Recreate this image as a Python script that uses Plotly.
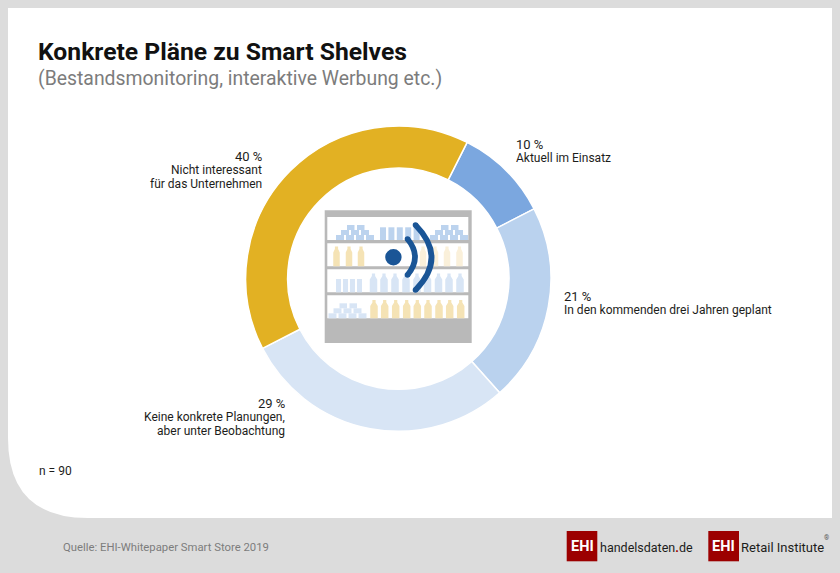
import plotly.graph_objects as go

# ---- data ----
categories = ["Aktuell im Einsatz", "In den kommenden drei Jahren geplant",
              "Keine konkrete Planungen, aber unter Beobachtung",
              "Nicht interessant für das Unternehmen"]
values = [10, 21, 29, 40]
colors = ["#7BA7DF", "#BAD2EE", "#D8E5F5", "#E2B123"]
value_labels = ["10 %", "21 %", "29 %", "40 %"]
title = "Konkrete Pläne zu Smart Shelves"
subtitle = "(Bestandsmonitoring, interaktive Werbung etc.)"

W, H = 840, 573
FONT = "Roboto"
DARK = "#1d1d1b"
GREY = "#7c7c7c"
BLUE_D = "#BCD3EE"
BLUE_L = "#D8E5F5"
YEL = "#F5E3B5"
YEL_L = "#FAF0DA"
SHELF = "#B9B9B9"
NAVY = "#1A5596"
RED = "#9C0000"

fig = go.Figure()
fig.add_trace(go.Pie(values=values, labels=categories, sort=False, direction="clockwise",
                     rotation=26.8, hole=0.725, textinfo="none", hoverinfo="label+percent",
                     marker=dict(colors=colors, line=dict(color="white", width=1.5)),
                     domain=dict(x=[245.6 / W, 551 / W], y=[1 - 431.3 / H, 1 - 126 / H]),
                     showlegend=False))

shapes = []


def rect(x0, y0, x1, y1, fill, layer="above"):
    shapes.append(dict(type="rect", xref="x", yref="y", x0=x0, y0=y0, x1=x1, y1=y1,
                       fillcolor=fill, line=dict(width=0), layer=layer))


def path(d, fill=None, line=None, width=0, layer="above"):
    shapes.append(dict(type="path", xref="x", yref="y", path=d, fillcolor=fill or "rgba(0,0,0,0)",
                       line=dict(color=line or "rgba(0,0,0,0)", width=width), layer=layer))


def circle(cx, cy, r, fill):
    shapes.append(dict(type="circle", xref="x", yref="y", x0=cx - r, y0=cy - r, x1=cx + r, y1=cy + r,
                       fillcolor=fill, line=dict(width=0), layer="above"))


# page: grey background with white panel (rounded lower-left corner)
path("M 8 8 L 832 8 L 832 518 L 88 518 Q 8 518 8 438 Z", fill="white", layer="below")

# shelf icon
rect(324.7, 210.3, 471.7, 343, SHELF)
for y0, y1 in [(217, 240), (243.3, 266.3), (269.3, 292.3), (295.3, 318.3)]:
    rect(327.3, y0, 468.3, y1, "white")


def bottle(cx, top, bottom, w, fill):
    h = w / 2
    n = 1.6
    d = (f"M {cx-h} {bottom} L {cx-h} {top+6} L {cx-n} {top+2.5} L {cx-n} {top} "
         f"L {cx+n} {top} L {cx+n} {top+2.5} L {cx+h} {top+6} L {cx+h} {bottom} Z")
    path(d, fill=fill)


def pyramid(x0, bottom, fill):
    h = 5
    rows = [[(0, 8), (10, 8), (20, 8), (30, 8)],
            [(5, 8), (15, 8), (25, 8)],
            [(11, 7.5), (21, 7.5)]]
    for lvl, blocks in enumerate(rows):
        for start, w in blocks:
            rect(x0 + start, bottom - (lvl + 1) * h, x0 + start + w, bottom - lvl * h, fill)


# row 1
pyramid(336, 240, BLUE_D)
for x in [380, 388.4, 396.8, 405.2, 413.6]:
    rect(x, 227.3, x + 6, 240, BLUE_D)
pyramid(430, 240, BLUE_D)
# row 2
for x in [336.5, 349, 361]:
    bottle(x, 246.5, 266.3, 6.5, YEL)
for x in [423, 435, 447, 459.5]:
    bottle(x, 246.5, 266.3, 6.5, YEL_L)
# row 3
for x in [336, 343, 350, 357]:
    rect(x, 279, x + 5, 292.3, BLUE_L)
for x in [373.5, 384, 395, 406, 417, 427.5, 438.5, 449, 460]:
    bottle(x, 273.5, 292.3, 7.5, BLUE_L)
# row 4
pyramid(328.5, 318.3, BLUE_L)
for x in [374, 384.7, 395.7, 406.7, 417.3, 428, 439, 449.7, 460.7]:
    bottle(x, 300, 318.3, 7.5, YEL)

# signal waves
circle(393.4, 257.3, 8.2, NAVY)
for x_end, y_top, y_bot, bulge in [(407.5, 239, 275, 415), (415.5, 225, 290, 431.5)]:
    ctrl = 2 * bulge - x_end
    mid = (y_top + y_bot) / 2
    path(f"M {x_end} {y_top} Q {ctrl} {mid} {x_end} {y_bot}", line=NAVY, width=5.6)
    circle(x_end, y_top, 2.8, NAVY)
    circle(x_end, y_bot, 2.8, NAVY)

# logos
rect(566.7, 531, 597.3, 561.3, RED, layer="below")
rect(708.3, 531, 739, 561.3, RED, layer="below")

ann = []


def text(x, y, s, size=12, color=DARK, anchor="left", family=FONT):
    ann.append(dict(xref="x", yref="y", x=x, y=y, text=s, showarrow=False, xanchor=anchor, yanchor="middle",
                    font=dict(family=family, size=size, color=color), align=anchor,
                    borderpad=0, borderwidth=0))


text(38, 51, f"<b>{title}</b>", size=24.7, color="#111111")
text(38, 78, subtitle, size=19.4, color=GREY)

# slice labels
text(516, 144, value_labels[0], size=13)
text(516, 158, "Aktuell im Einsatz", size=12)
text(564, 296, value_labels[1], size=13)
text(564, 310, "In den kommenden drei Jahren geplant", size=12)
text(285, 403, value_labels[2], size=13, anchor="right")
text(285, 417, "Keine konkrete Planungen,", size=12, anchor="right")
text(285, 431, "aber unter Beobachtung", size=12, anchor="right")
text(262, 156, value_labels[3], size=13, anchor="right")
text(262, 170, "Nicht interessant", size=12, anchor="right")
text(262, 184, "für das Unternehmen", size=12, anchor="right")

text(39, 470.5, "n = 90", size=12)
text(63, 547.5, "Quelle: EHI-Whitepaper Smart Store 2019", size=11.3, color=GREY)

text(582, 546.5, "<b>EHI</b>", size=14.5, color="white", anchor="center")
text(723.6, 546.5, "<b>EHI</b>", size=14.5, color="white", anchor="center")
text(600, 547, f"handelsdaten<span style='color:{RED}'><b>.</b></span>de", size=12.5, color=DARK)
text(741, 547, "Retail Institute", size=13, color=DARK)
text(826.5, 537.5, "®", size=6.5, color="#555555", anchor="center")

fig.update_layout(
    width=W, height=H, margin=dict(l=0, r=0, t=0, b=0), autosize=False,
    paper_bgcolor="#DCDCDC", plot_bgcolor="rgba(0,0,0,0)",
    xaxis=dict(range=[0, W], visible=False, fixedrange=True),
    yaxis=dict(range=[H, 0], visible=False, fixedrange=True),
    shapes=shapes, annotations=ann, showlegend=False,
)
fig.write_html("out.html", config=dict(displayModeBar=False),
               post_script="document.body.style.margin='0';document.documentElement.style.overflow='hidden';")
